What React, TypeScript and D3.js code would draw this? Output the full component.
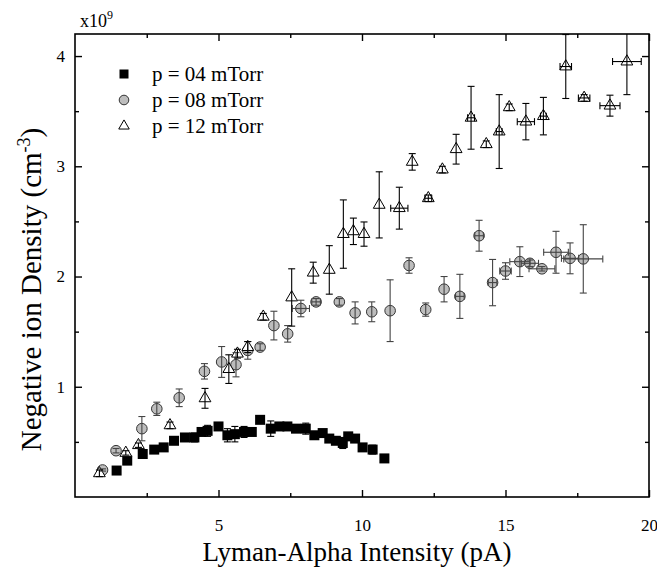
import React, { useEffect, useRef } from 'react';
import * as d3 from 'd3';

// p = 04 mTorr : [intensity (pA), density (x1e9 cm^-3), y error]
const p04: [number, number, number][] = [
  [1.45, 0.24, 0.01], [1.82, 0.33, 0.01], [2.36, 0.39, 0.01], [2.76, 0.43, 0.01],
  [3.09, 0.45, 0.01], [3.45, 0.51, 0.01], [3.83, 0.54, 0.01], [4.16, 0.54, 0.04],
  [4.41, 0.59, 0.02], [4.62, 0.60, 0.05], [5.0, 0.64, 0.02], [5.31, 0.56, 0.06],
  [5.57, 0.57, 0.07], [5.89, 0.59, 0.05], [6.16, 0.59, 0.02], [6.45, 0.70, 0.01],
  [6.82, 0.62, 0.07], [7.12, 0.64, 0.02], [7.40, 0.64, 0.02], [7.70, 0.62, 0.02],
  [8.04, 0.62, 0.05], [8.34, 0.56, 0.02], [8.63, 0.58, 0.02], [8.86, 0.53, 0.02],
  [9.09, 0.51, 0.02], [9.33, 0.49, 0.05], [9.52, 0.55, 0.03], [9.76, 0.53, 0.02],
  [10.02, 0.45, 0.02], [10.37, 0.43, 0.04], [10.78, 0.35, 0.01]
];

// p = 08 mTorr : [x, y, y error, x error]
const p08: [number, number, number, number][] = [
  [0.96, 0.245, 0.01, 0], [1.43, 0.42, 0.02, 0], [2.33, 0.62, 0.11, 0], [2.85, 0.80, 0.06, 0],
  [3.63, 0.90, 0.08, 0], [4.51, 1.14, 0.07, 0], [5.11, 1.225, 0.14, 0], [5.61, 1.20, 0.11, 0],
  [6.02, 1.33, 0.08, 0], [6.45, 1.36, 0.03, 0], [6.93, 1.555, 0.13, 0], [7.41, 1.48, 0.075, 0],
  [7.87, 1.71, 0.075, 0.3], [8.40, 1.77, 0.03, 0.15], [9.21, 1.77, 0.03, 0], [9.76, 1.67, 0.10, 0],
  [10.34, 1.68, 0.09, 0], [10.98, 1.69, 0.28, 0], [11.64, 2.10, 0.07, 0], [12.22, 1.70, 0.06, 0],
  [12.86, 1.885, 0.115, 0], [13.41, 1.82, 0.20, 0.15], [14.08, 2.37, 0.14, 0.15], [14.55, 1.945, 0.21, 0.15],
  [15.0, 2.05, 0.075, 0.2], [15.5, 2.135, 0.135, 0.35], [15.85, 2.12, 0.03, 0.3], [16.27, 2.07, 0.02, 0.45],
  [16.76, 2.22, 0.19, 0.43], [17.25, 2.165, 0.14, 0.3], [17.71, 2.16, 0.31, 0.68]
];

// p = 12 mTorr : [x, y, y error, x error]
const p12: [number, number, number, number][] = [
  [0.85, 0.215, 0.03, 0], [1.77, 0.40, 0.02, 0], [2.21, 0.47, 0.02, 0], [3.31, 0.65, 0.03, 0],
  [4.53, 0.895, 0.09, 0], [5.36, 1.16, 0.13, 0], [5.66, 1.30, 0.04, 0], [6.02, 1.36, 0.05, 0],
  [6.56, 1.635, 0.03, 0], [7.55, 1.81, 0.26, 0], [8.30, 2.035, 0.095, 0], [8.86, 2.06, 0.22, 0],
  [9.35, 2.385, 0.31, 0], [9.70, 2.41, 0.12, 0], [10.07, 2.385, 0.11, 0], [10.60, 2.65, 0.30, 0],
  [11.30, 2.62, 0.19, 0.3], [11.75, 3.04, 0.075, 0], [12.31, 2.71, 0.03, 0.12], [12.80, 2.97, 0.03, 0],
  [13.28, 3.155, 0.135, 0], [13.80, 3.44, 0.285, 0.12], [14.33, 3.20, 0.03, 0], [14.78, 3.315, 0.335, 0.1],
  [15.13, 3.535, 0.03, 0], [15.71, 3.405, 0.165, 0.3], [16.32, 3.455, 0.17, 0.1], [17.10, 3.905, 0.29, 0.2],
  [17.74, 3.62, 0.03, 0.2], [18.64, 3.55, 0.095, 0.35], [19.23, 3.95, 0.30, 0.5]
];

const legendLabels = ['p = 04 mTorr', 'p = 08 mTorr', 'p = 12 mTorr'];
const xMajorTicks = [5, 10, 15, 20];
const yMajorTicks = [1, 2, 3, 4];

const App: React.FC = () => {
  const svgRef = useRef<SVGSVGElement>(null);

  useEffect(() => {
    if (!svgRef.current) return;
    const svg = d3.select(svgRef.current);
    svg.selectAll('*').remove();

    const width = 657;
    const height = 572;
    const margin = { top: 34, right: 8, bottom: 75, left: 75 };
    const x = d3.scaleLinear().domain([0, 20]).range([margin.left, width - margin.right]);
    const y = d3.scaleLinear().domain([0, 4.2]).range([height - margin.bottom, margin.top]);
    const font = '"Liberation Serif", "Times New Roman", serif';

    svg.append('clipPath').attr('id', 'plot-clip')
      .append('rect')
      .attr('x', x(0)).attr('y', y(4.2))
      .attr('width', x(20) - x(0)).attr('height', y(0) - y(4.2));

    // axes: all ticks point inward
    const addAxis = (axis: d3.Axis<d3.NumberValue>, tx: number, ty: number, labels: boolean) => {
      const g = svg.append('g').attr('transform', `translate(${tx},${ty})`).call(axis);
      g.select('.domain').remove();
      g.selectAll('line').attr('stroke', '#000').attr('stroke-width', 1.4);
      if (!labels) g.selectAll('text').remove();
      else g.selectAll('text').style('font-family', font).style('font-size', '17px').attr('fill', '#000');
      return g;
    };
    const xMinor = d3.range(2.5, 20, 5);
    const yMinor = d3.range(0.5, 4.2, 1);

    addAxis(d3.axisBottom(x).tickValues(xMajorTicks).tickSize(-7).tickPadding(22).tickFormat(d3.format('d')), 0, y(0), true);
    addAxis(d3.axisBottom(x).tickValues(xMinor).tickSize(-4).tickFormat(() => ''), 0, y(0), false);
    addAxis(d3.axisTop(x).tickValues(xMajorTicks).tickSize(-7).tickFormat(() => ''), 0, y(4.2), false);
    addAxis(d3.axisTop(x).tickValues(xMinor).tickSize(-4).tickFormat(() => ''), 0, y(4.2), false);
    addAxis(d3.axisLeft(y).tickValues(yMajorTicks).tickSize(-7).tickPadding(10).tickFormat(d3.format('d')), x(0), 0, true);
    addAxis(d3.axisLeft(y).tickValues(yMinor).tickSize(-4).tickFormat(() => ''), x(0), 0, false);
    addAxis(d3.axisRight(y).tickValues(yMajorTicks).tickSize(-7).tickFormat(() => ''), x(20), 0, false);
    addAxis(d3.axisRight(y).tickValues(yMinor).tickSize(-4).tickFormat(() => ''), x(20), 0, false);

    svg.append('rect')
      .attr('x', x(0)).attr('y', y(4.2))
      .attr('width', x(20) - x(0)).attr('height', y(0) - y(4.2))
      .attr('fill', 'none').attr('stroke', '#000').attr('stroke-width', 1.6);

    const plot = svg.append('g').attr('clip-path', 'url(#plot-clip)');

    // markers
    const sq = 10;
    plot.append('g').selectAll('rect')
      .data(p04).enter().append('rect')
      .attr('x', d => x(d[0]) - sq / 2).attr('y', d => y(d[1]) - sq / 2)
      .attr('width', sq).attr('height', sq)
      .attr('fill', '#000');

    plot.append('g').selectAll('circle')
      .data(p08).enter().append('circle')
      .attr('cx', d => x(d[0])).attr('cy', d => y(d[1])).attr('r', 5.3)
      .attr('fill', '#bdbdbd').attr('stroke', '#333').attr('stroke-width', 1);

    const tri = d3.symbol().type(d3.symbolTriangle).size(60);
    plot.append('g').selectAll('path')
      .data(p12).enter().append('path')
      .attr('d', tri)
      .attr('transform', d => `translate(${x(d[0])},${y(d[1])})`)
      .attr('fill', '#fff').attr('stroke', '#000').attr('stroke-width', 1);

    // error bars drawn over the markers
    const cap = 3.5;
    const drawErrors = (data: number[][], color: string) => {
      const g = plot.append('g').attr('stroke', color).attr('stroke-width', 1.1).attr('fill', 'none');
      data.forEach(d => {
        const cx = x(d[0]);
        const cy = y(d[1]);
        const ey = d[2];
        const ex = d[3] || 0;
        if (ey > 0) {
          const y1 = y(d[1] + ey);
          const y2 = y(d[1] - ey);
          g.append('line').attr('x1', cx).attr('x2', cx).attr('y1', y1).attr('y2', y2);
          g.append('line').attr('x1', cx - cap).attr('x2', cx + cap).attr('y1', y1).attr('y2', y1);
          g.append('line').attr('x1', cx - cap).attr('x2', cx + cap).attr('y1', y2).attr('y2', y2);
        }
        if (ex > 0) {
          const x1 = x(d[0] - ex);
          const x2 = x(d[0] + ex);
          g.append('line').attr('x1', x1).attr('x2', x2).attr('y1', cy).attr('y2', cy);
          g.append('line').attr('x1', x1).attr('x2', x1).attr('y1', cy - cap).attr('y2', cy + cap);
          g.append('line').attr('x1', x2).attr('x2', x2).attr('y1', cy - cap).attr('y2', cy + cap);
        }
      });
    };
    drawErrors(p04, '#000');
    drawErrors(p08, '#444');
    drawErrors(p12, '#000');

    // legend
    const legend = svg.append('g').attr('transform', 'translate(124,74)');
    legend.append('rect').attr('x', -4.5).attr('y', -4.5).attr('width', 9).attr('height', 9).attr('fill', '#000');
    legend.append('circle').attr('cx', 0).attr('cy', 26).attr('r', 4.8)
      .attr('fill', '#bdbdbd').attr('stroke', '#333');
    legend.append('path').attr('d', d3.symbol().type(d3.symbolTriangle).size(48)())
      .attr('transform', 'translate(0,52)').attr('fill', '#fff').attr('stroke', '#000');
    legend.selectAll('text')
      .data(legendLabels).enter().append('text')
      .attr('x', 28).attr('y', (d, i) => i * 26)
      .attr('dy', '0.35em')
      .style('font-family', font).style('font-size', '21px')
      .text(d => d);

    // multiplier
    const mult = svg.append('text').attr('x', 80).attr('y', 27)
      .style('font-family', font).style('font-size', '18px');
    mult.append('tspan').text('x10');
    mult.append('tspan').attr('dy', -8).style('font-size', '12px').text('9');

    // axis titles
    svg.append('text')
      .attr('x', (x(0) + x(20)) / 2 - 5).attr('y', 561)
      .attr('text-anchor', 'middle')
      .style('font-family', font).style('font-size', '27px')
      .text('Lyman-Alpha Intensity (pA)');

    const yTitle = svg.append('text')
      .attr('transform', `translate(41,${(y(0) + y(4.2)) / 2 + 24}) rotate(-90)`)
      .attr('text-anchor', 'middle')
      .style('font-family', font).style('font-size', '29px');
    yTitle.append('tspan').text('Negative ion Density (cm');
    yTitle.append('tspan').attr('dy', -11).style('font-size', '18px').text('-3');
    yTitle.append('tspan').attr('dy', 11).text(')');
  }, []);

  return (
    <svg
      ref={svgRef}
      width={657}
      height={572}
      style={{ position: 'absolute', left: 0, top: 0, background: '#fff' }}
    />
  );
};

export default App;
